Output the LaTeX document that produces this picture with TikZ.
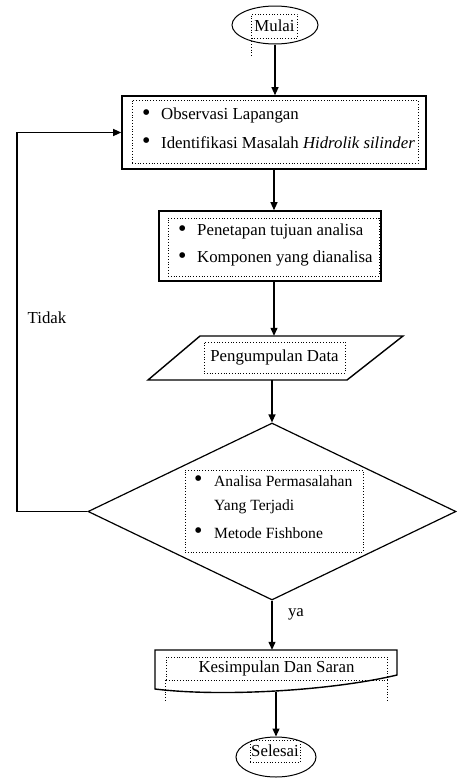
\documentclass[tikz,border=0pt]{standalone}
\usepackage{fontspec}
\setmainfont{Liberation Serif}
\usetikzlibrary{shapes.geometric,arrows.meta}
\newcommand{\bigdot}{{\fontsize{24}{24}\selectfont\textbullet}}
\begin{document}
\begin{tikzpicture}[x=1pt,y=-1pt,
  every node/.style={font=\fontsize{16.8}{19}\selectfont, text=black},
  conn/.style={line width=1.2pt, -{Triangle[length=8pt,width=7pt]}},
  link/.style={line width=1.2pt},
  boxshape/.style={draw, line width=1.6pt, inner sep=0pt},
  frame/.style={draw, dotted, line width=0.8pt, inner sep=0pt},
  oval/.style={ellipse, draw, line width=1pt, inner sep=0pt},
  ghost/.style={inner sep=0pt, draw=none},
  txt/.style={anchor=west, inner sep=0pt},
  smalltxt/.style={anchor=west, inner sep=0pt, font=\fontsize{15.6}{18}\selectfont},
  outline/.style={line width=1.4pt, line join=miter},
]
\useasboundingbox (0,0) rectangle (457,782);
\fill[white] (0,0) rectangle (457,782);

% Mulai
\node[oval, minimum width=86pt, minimum height=38pt] (mulai) at (275,25) {};
\node[frame, minimum width=46pt, minimum height=24pt] (mulaiT) at (274.5,26) {Mulai};
\draw[dotted, line width=0.8pt] (mulaiT.south west) -- ++(0,17);

% Box 1
\node[boxshape, minimum width=304pt, minimum height=73pt] (b1) at (274,132.5) {};
\node[frame, minimum width=286pt, minimum height=63pt] (b1F) at (275,131.5) {};
\node[txt] (b1b1) at (142,115) {\bigdot};
\node[txt] (b1t1) at (161,115) {Observasi Lapangan};
\node[txt] (b1b2) at (142,143) {\bigdot};
\node[txt] (b1t2) at (161,143) {Identifikasi Masalah \textit{Hidrolik silinder}};

% Box 2
\node[boxshape, minimum width=222pt, minimum height=70pt] (b2) at (270,246) {};
\node[frame, minimum width=211pt, minimum height=58pt] (b2F) at (273.5,247) {};
\node[txt] (b2b1) at (178,231) {\bigdot};
\node[txt] (b2t1) at (197,231) {Penetapan tujuan analisa};
\node[txt] (b2b2) at (178,258) {\bigdot};
\node[txt] (b2t2) at (197,258) {Komponen yang dianalisa};

% Parallelogram
\node[ghost, minimum width=255pt, minimum height=44pt] (para) at (275.5,358) {};
\draw[outline] (200,336) -- (403,336) -- (347,380) -- (148,380) -- cycle;
\node[frame, minimum width=141pt, minimum height=31pt] (paraT) at (274.5,357.5) {Pengumpulan Data};

% Diamond
\node[diamond, draw, line width=1.2pt, inner sep=0pt, minimum width=368pt, minimum height=177pt] (dia) at (272,511.5) {};
\node[frame, minimum width=178pt, minimum height=82pt] (diaF) at (274,511) {};
\node[txt] (dib1) at (194,481) {\bigdot};
\node[smalltxt] (dit1) at (214,481) {Analisa Permasalahan};
\node[smalltxt] (dit2) at (214,507) {Yang Terjadi};
\node[txt] (dib3) at (194,533) {\bigdot};
\node[smalltxt] (dit3) at (214,533) {Metode Fishbone};

% Document shape
\node[ghost, minimum width=242pt, minimum height=42pt] (doc) at (276,671) {};
\draw[outline] (155,650) -- (397,650) -- (397,675) .. controls (330,691) and (220,697) .. (155,689) -- cycle;
\node[frame, minimum width=221pt, minimum height=23pt] (docT) at (276.5,668.5) {Kesimpulan Dan Saran};
\draw[dotted, line width=0.8pt] (docT.south west) -- ++(0,20);
\draw[dotted, line width=0.8pt] (docT.south east) -- ++(0,20);

% Selesai
\node[oval, minimum width=80pt, minimum height=40pt] (selesai) at (276,757) {};
\node[frame, minimum width=50pt, minimum height=22pt] (selesaiT) at (275,751) {Selesai};

% Connectors
\draw[conn] (mulai.south) -- (mulai.south |- b1.north);
\draw[conn] (b1.south) -- (b1.south |- b2.north);
\draw[conn] (b1.south |- b2.south) -- (b1.south |- para.north);
\draw[conn] (para.south -| dia.north) -- (dia.north);
\draw[conn] (dia.south) -- (dia.south |- doc.north);
\draw[conn] (doc.south) -- (selesai.north);
\coordinate (corner) at (17,511.5);
\draw[link] (dia.west) -- (corner);
\draw[conn] (corner) |- (b1.west);

% Labels
\node (tidak) at (47,318) {Tidak};
\node (ya) at (296,614) {ya};
\end{tikzpicture}
\end{document}
